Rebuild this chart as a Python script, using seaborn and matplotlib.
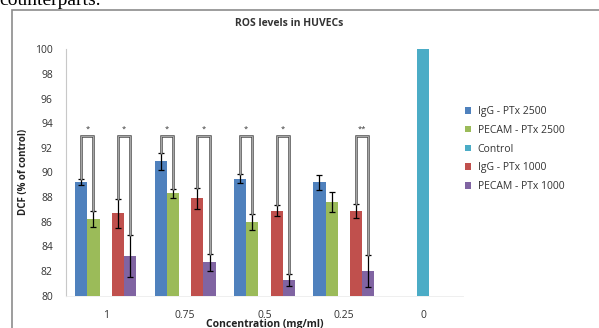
import numpy as np
import pandas as pd
import seaborn as sns
import matplotlib.pyplot as plt
from matplotlib.patches import Rectangle

# values
concentrations = ["1", "0.75", "0.5", "0.25", "0"]
series = ["IgG - PTx 2500", "PECAM - PTx 2500", "Control", "IgG - PTx 1000", "PECAM - PTx 1000"]
igg_2500 = [89.25, 90.9, 89.5, 89.2, np.nan]
pecam_2500 = [86.2, 88.3, 86.0, 87.6, np.nan]
control = [np.nan, np.nan, np.nan, np.nan, 100.0]
igg_1000 = [86.7, 87.9, 86.9, 86.9, np.nan]
pecam_1000 = [83.2, 82.7, 81.3, 82.0, np.nan]

igg_2500_err = [0.25, 0.7, 0.37, 0.6, np.nan]
pecam_2500_err = [0.65, 0.35, 0.65, 0.82, np.nan]
control_err = [np.nan, np.nan, np.nan, np.nan, np.nan]
igg_1000_err = [1.17, 0.85, 0.47, 0.57, np.nan]
pecam_1000_err = [1.7, 0.7, 0.5, 1.33, np.nan]

# significance brackets: (group, left series, right series, label)
brackets = [
    ("1", "IgG - PTx 2500", "PECAM - PTx 2500", "*"),
    ("1", "IgG - PTx 1000", "PECAM - PTx 1000", "*"),
    ("0.75", "IgG - PTx 2500", "PECAM - PTx 2500", "*"),
    ("0.75", "IgG - PTx 1000", "PECAM - PTx 1000", "*"),
    ("0.5", "IgG - PTx 2500", "PECAM - PTx 2500", "*"),
    ("0.5", "IgG - PTx 1000", "PECAM - PTx 1000", "*"),
    ("0.25", "IgG - PTx 1000", "PECAM - PTx 1000", "**"),
]
bracket_top = 93.0

colors = ["#4F81BD", "#9BBB59", "#4BACC6", "#C0504D", "#8064A2"]

values = [igg_2500, pecam_2500, control, igg_1000, pecam_1000]
errors = [igg_2500_err, pecam_2500_err, control_err, igg_1000_err, pecam_1000_err]
rows = []
for s, vals, errs in zip(series, values, errors):
    for c, v, e in zip(concentrations, vals, errs):
        rows.append({"conc": c, "series": s, "value": v, "err": e})
df = pd.DataFrame(rows)

sns.set_style("white")
plt.rcParams["font.family"] = ["Open Sans", "DejaVu Sans"]

W, H = 599, 328
fig = plt.figure(figsize=(W / 100, H / 100), dpi=100)
ax = fig.add_axes([66 / W, 32.3 / H, (463 - 66) / W, (295.7 - 49.3) / H])

sns.barplot(data=df.dropna(subset=["value"]), x="conc", y="value", hue="series",
            order=concentrations, hue_order=series, palette=colors,
            width=5 / 6.5, errorbar=None, linewidth=0, saturation=1, ax=ax)

# error bars and bar centres, taken from the drawn bars
centres = {}
for s, cont in zip(series, ax.containers):
    sub = df[(df.series == s) & df.value.notna()]
    for bar, (_, r) in zip(cont, sub.iterrows()):
        xc = bar.get_x() + bar.get_width() / 2
        centres[(r.conc, s)] = (xc, r.value, r.err)
        if not np.isnan(r.err):
            ax.errorbar(xc, r.value, yerr=r.err, color="black", elinewidth=0.9,
                        capsize=2.2, capthick=0.9, zorder=4)

for conc, left, right, label in brackets:
    x0, v0, e0 = centres[(conc, left)]
    x1, v1, e1 = centres[(conc, right)]
    xs = [x0, x0, x1, x1]
    ys = [v0 + e0, bracket_top, bracket_top, v1 + e1]
    ax.plot(xs, ys, color="#4a4a4a", lw=1.8, solid_joinstyle="miter", zorder=5)
    ax.plot(xs, ys, color="#b8b8b8", lw=0.6, solid_joinstyle="miter", zorder=6)
    ax.text((x0 + x1) / 2, bracket_top + 0.2, label, ha="center", va="bottom",
            fontsize=5.5, color="#333333")

ax.set_ylim(80, 100)
ax.set_xlim(-0.5, len(concentrations) - 0.5)
ax.set_yticks(np.arange(80, 101, 2))
ax.tick_params(axis="y", length=0, pad=9.5, labelsize=7.5, labelcolor="#333333")
ax.tick_params(axis="x", which="major", length=0, pad=10, labelsize=7.5, labelcolor="#333333")
ax.set_xticks(np.arange(-0.5, len(concentrations)), minor=True)
ax.tick_params(axis="x", which="minor", length=3, width=0.8, color="#cccccc")
ax.set_xlabel("")
ax.set_ylabel("")
for side in ["top", "right"]:
    ax.spines[side].set_visible(False)
ax.spines["left"].set_color("#c8c8c8")
ax.spines["left"].set_linewidth(0.8)
ax.spines["bottom"].set_color("#ececec")
ax.spines["bottom"].set_linewidth(0.6)

handles, labels = ax.get_legend_handles_labels()
ax.legend(handles, labels, loc="upper left", bbox_to_anchor=(465 / W, 1 - 106 / H),
          bbox_transform=fig.transFigure, frameon=False, fontsize=7.5,
          handlelength=0.6, handleheight=0.6, handletextpad=0.6, labelspacing=0.75,
          borderaxespad=0, borderpad=0, labelcolor="#333333")

fig.text(289 / W, 1 - 23 / H, "ROS levels in HUVECs", ha="center", va="center",
         fontsize=7.5, fontweight="bold", color="#333333")
fig.text(24 / W, (H - 172) / H, "DCF (% of control)", rotation=90,
         ha="center", va="center", fontsize=7, fontweight="bold", color="#222222")
fig.text(265 / W, 1 - 325 / H, "Concentration (mg/ml)", ha="center", va="center",
         fontsize=7.5, fontweight="bold", color="#222222")

# surrounding page: cut-off text line and chart frame
fig.text(-1 / W, 1 - 5 / H, "counterparts.", ha="left", va="baseline",
         fontsize=14, family="Liberation Serif", color="black")
fig.patches.append(Rectangle((12 / W, -0.1), 1.0, 1 - 9.5 / H + 0.1,
                             transform=fig.transFigure, fill=False,
                             edgecolor="#8c8c8c", linewidth=1.2))

fig.savefig("out.png", dpi=100)
